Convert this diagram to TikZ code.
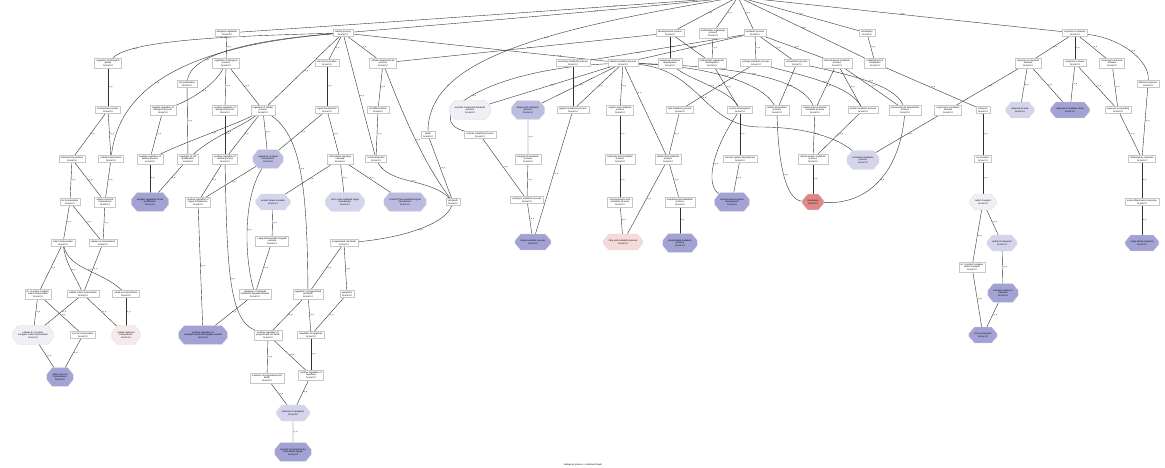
\documentclass[tikz,border=0pt]{standalone}
\usepackage{fontspec}
\setmainfont{Liberation Sans}
\usetikzlibrary{shapes.misc,backgrounds}
\definecolor{cpale}{HTML}{EFEFF6}
\definecolor{clight}{HTML}{D4D4EC}
\definecolor{cmed}{HTML}{BCBCE0}
\definecolor{cdark}{HTML}{A2A2D4}
\definecolor{cpink}{HTML}{F6DADA}
\definecolor{cpinkpale}{HTML}{F8EAEA}
\definecolor{cred}{HTML}{E08888}
\newcommand{\IA}{is\_a}
\tikzset{
 nf/.style={font=\fontsize{2.3}{2.7}\selectfont},
 box/.style={nf, draw=black!22, line width=0.3pt, fill=white, align=center, inner xsep=2pt, inner ysep=1.3pt},
 oct/.style={nf, chamfered rectangle, chamfered rectangle angle=40, chamfered rectangle xsep=2.5pt, draw=black!15, line width=0.3pt, align=center, inner xsep=3pt, inner ysep=2.2pt, minimum height=15pt},
 e/.style={draw=black!80, line width=0.4pt},
 lb/.style={font=\fontsize{1.9}{2}\selectfont, inner sep=0.7pt, right},
}
\begin{document}
\begin{tikzpicture}[x=1pt,y=-1pt]
\useasboundingbox (0,0) rectangle (1165,468);
\coordinate (root) at (738,-3);
% row 0
\node[box] (bioreg) at (227,33) {biological regulation\\Score:0.0};
\node[box] (cellproc) at (343,33) {cellular process\\Score:0.0};
\node[box] (devproc) at (670,33) {developmental process\\Score:0.0};
\node[box] (multorg) at (713,33) {multicellular organismal\\process\\Score:0.0};
\node[box] (metproc) at (755,33) {metabolic process\\Score:0.0};
\node[box] (loc) at (867,33) {localization\\Score:0.0};
\node[box] (respstim) at (1075,33) {response to stimulus\\Score:0.0};
% row 1
\node[box] (regbioqual) at (108,63) {regulation of biological\\quality\\Score:0.0};
\node[box] (regbioproc) at (226,63) {regulation of biological\\process\\Score:0.0};
\node[box] (cellcomm) at (327,63) {cell communication\\Score:0.0};
\node[box] (celldevproc) at (383,63) {cellular developmental\\process\\Score:0.0};
\node[box] (secmet) at (573,63) {secondary metabolic process\\Score:0.0};
\node[box] (cellmet) at (623,63) {cellular metabolic process\\Score:0.0};
\node[box] (anatdev) at (670,63) {anatomical structure\\development\\Score:0.0};
\node[box] (multdev) at (712,63) {multicellular organismal\\development\\Score:0.0};
\node[box] (primmet) at (756,63) {primary metabolic process\\Score:0.0};
\node[box] (biosyn) at (797,63) {biosynthetic process\\Score:0.0};
\node[box] (macromet) at (837,63) {macromolecule metabolic\\process\\Score:0.0};
\node[box] (estloc) at (875,63) {establishment of\\localization\\Score:0.0};
\node[box] (respchem) at (1028,63) {response to chemical\\stimulus\\Score:0.0};
\node[box] (respstress) at (1075,63) {response to stress\\Score:0.0};
\node[box] (respext) at (1112,63) {response to external\\stimulus\\Score:0.0};
\node[box] (cellprolif) at (187,84) {cell proliferation\\Score:0.0};
\node[box] (defresp) at (1148,84) {defense response\\Score:0.0};
% row 2
\node[box] (homeo) at (108,110) {homeostatic process\\Score:0.0};
\node[box] (negregbio) at (163,110) {negative regulation of\\biological process\\Score:0.0};
\node[box] (posregbio) at (225,110) {positive regulation of\\biological process\\Score:0.0};
\node[box] (regcell) at (263,110) {regulation of cellular\\process\\Score:0.0};
\node[box] (sigtrans) at (327,110) {signal transduction\\Score:0.0};
\node[box] (celldiff) at (378,110) {cell differentiation\\Score:0.0};
\node[oct,fill=cpale] (arommet) at (470,110) {aromatic compound metabolic\\process\\Score:0.0};
\node[oct,fill=cmed] (hetmet) at (528,110) {heterocycle metabolic\\process\\Score:1.0};
\node[box] (pigmet) at (573,110) {pigment metabolic process\\Score:0.0};
\node[box] (orgacid) at (620,110) {organic acid metabolic\\process\\Score:0.0};
\node[box] (lipmet) at (680,110) {lipid metabolic process\\Score:0.0};
\node[box] (sysdev) at (740,110) {system development\\Score:0.0};
\node[box] (cellbiosyn) at (777,110) {cellular biosynthetic\\process\\Score:0.0};
\node[box] (cellmacro) at (815,110) {cellular macromolecule\\metabolic process\\Score:0.0};
\node[box] (protmet) at (863,110) {protein metabolic process\\Score:0.0};
\node[box] (macrobiosyn) at (905,110) {macromolecule biosynthetic\\process\\Score:0.0};
\node[box] (respxeno) at (948,110) {response to xenobiotic\\stimulus\\Score:0.0};
\node[box] (transport) at (983,110) {transport\\Score:0.0};
\node[oct,fill=clight] (resptoxin) at (1020,110) {response to toxin\\Score:1.0};
\node[oct,fill=cdark] (respox) at (1070,110) {response to oxidative stress\\Score:1.0};
\node[box] (respwound) at (1118,110) {response to wounding\\Score:0.0};
\node[box] (death) at (428,135) {death\\Score:0.0};
\node[box] (cofactor) at (480,135) {cofactor metabolic process\\Score:0.0};
% row 3
\node[box] (chemhomeo) at (72,159) {chemical homeostasis\\Score:0.0};
\node[box] (cellhomeo) at (111,159) {cellular homeostasis\\Score:0.0};
\node[box] (negregcell) at (150,159) {negative regulation of\\cellular process\\Score:0.0};
\node[box] (regcellprolif) at (188,159) {regulation of cell\\proliferation\\Score:0.0};
\node[box] (posregcell) at (225,159) {positive regulation of\\cellular process\\Score:0.0};
\node[oct,fill=cmed] (regsig) at (268,159) {regulation of signal\\transduction\\Score:1.0};
\node[box] (intrasig) at (340,159) {intracellular signaling\\cascade\\Score:0.0};
\node[box] (celldevt) at (376,159) {cell development\\Score:0.0};
\node[box] (tetrapyr) at (528,159) {tetrapyrrole metabolic\\process\\Score:0.0};
\node[box] (carbox) at (620,159) {carboxylic acid metabolic\\process\\Score:0.0};
\node[box] (celllip) at (668,159) {cellular lipid metabolic\\process\\Score:0.0};
\node[box] (nervdev) at (740,159) {nervous system development\\Score:0.0};
\node[box] (cellprot) at (813,159) {cellular protein metabolic\\process\\Score:0.0};
\node[oct,fill=clight] (xenomet) at (863,160) {xenobiotic metabolic\\process\\Score:1.0};
\node[box] (iontrans) at (983,159) {ion transport\\Score:0.0};
\node[box] (inflam) at (1142,159) {inflammatory response\\Score:0.0};
% row 4
\node[box] (ionhomeo) at (70,202) {ion homeostasis\\Score:0.0};
\node[box] (cellchem) at (105,202) {cellular chemical\\homeostasis\\Score:0.0};
\node[oct,fill=cdark] (negregprolif) at (150,202) {negative regulation of cell\\proliferation\\Score:1.0};
\node[box] (posregsig) at (198,202) {positive regulation of\\signal transduction\\Score:0.0};
\node[oct,fill=clight] (pkc) at (273,202) {protein kinase cascade\\Score:1.0};
\node[oct,fill=clight] (nitric) at (345,202) {nitric oxide mediated signal\\transduction\\Score:1.0};
\node[oct,fill=cmed] (smallgtp) at (405,202) {small GTPase mediated signal\\transduction\\Score:1.0};
\node[box] (celldeath) at (453,202) {cell death\\Score:0.0};
\node[box] (porph) at (527,200) {porphyrin metabolic process\\Score:0.0};
\node[box] (monocarb) at (620,202) {monocarboxylic acid\\metabolic process\\Score:0.0};
\node[box] (memlip) at (680,202) {membrane lipid metabolic\\process\\Score:0.0};
\node[oct,fill=cdark] (cns) at (732,202) {central nervous system\\development\\Score:1.0};
\node[oct,fill=cred] (translation) at (813,202) {translation\\Score:1.0};
\node[oct,fill=cpale] (cationtrans) at (983,202) {cation transport\\Score:1.0};
\node[box] (acuteinf) at (1142,202) {acute inflammatory response\\Score:0.0};
% row 5
\node[box] (cationhomeo) at (63,243) {cation homeostasis\\Score:0.0};
\node[box] (cellion) at (103,243) {cellular ion homeostasis\\Score:0.0};
\node[box] (ikk) at (272,241) {I-kappaB kinase/NF-kappaB\\cascade\\Score:0.0};
\node[box] (pcd) at (344,243) {programmed cell death\\Score:0.0};
\node[oct,fill=cdark] (heme) at (533,242) {heme metabolic process\\Score:1.0};
\node[oct,fill=cpink] (fatty) at (623,242) {fatty acid metabolic process\\Score:0.0};
\node[oct,fill=cdark] (phospho) at (680,243) {phospholipid metabolic\\process\\Score:1.0};
\node[oct,fill=clight] (metaltrans) at (1002,243) {metal ion transport\\Score:1.0};
\node[oct,fill=cdark] (acutephase) at (1142,243) {acute-phase response\\Score:1.0};
\node[box] (ditrans) at (972,267) {di-, tri-valent inorganic\\cation transport\\Score:0.0};
% row 6
\node[box] (ditrihomeo) at (38,294) {di-, tri-valent inorganic\\cation homeostasis\\Score:0.0};
\node[box] (cellcation) at (83,294) {cellular cation homeostasis\\Score:0.0};
\node[box] (metalhomeo) at (126,294) {metal ion homeostasis\\Score:0.0};
\node[box] (regikk) at (255,294) {regulation of I-kappaB\\kinase/NF-kappaB cascade\\Score:0.0};
\node[box] (regpcd) at (308,294) {regulation of programmed\\cell death\\Score:0.0};
\node[box] (apop) at (347,294) {apoptosis\\Score:0.0};
\node[oct,fill=cdark] (transmetal) at (1003,293) {transition metal ion\\transport\\Score:1.0};
% row 7
\node[oct,fill=cpale] (cellditri) at (33,335) {cellular di-, tri-valent\\inorganic cation homeostasis\\Score:1.0};
\node[box] (ironhomeo) at (83,335) {iron ion homeostasis\\Score:0.0};
\node[oct,fill=cpinkpale] (cellmetal) at (126,335) {cellular metal ion\\homeostasis\\Score:1.0};
\node[oct,fill=cdark] (posregikk) at (203,335) {positive regulation of\\I-kappaB kinase/NF-kappaB cascade\\Score:1.0};
\node[box] (posregpcd) at (268,335) {positive regulation of\\programmed cell death\\Score:0.0};
\node[box] (regapop) at (311,335) {regulation of apoptosis\\Score:0.0};
\node[oct,fill=cdark] (irontrans) at (983,335) {iron ion transport\\Score:1.0};
% row 8+
\node[oct,fill=cdark] (celliron) at (60,377) {cellular iron ion\\homeostasis\\Score:1.0};
\node[box] (indpcd) at (267,378) {induction of programmed cell\\death\\Score:0.0};
\node[box] (posregapop) at (311,375) {positive regulation of\\apoptosis\\Score:0.0};
\node[oct,fill=clight] (indapop) at (293,413) {induction of apoptosis\\Score:1.0};
\node[oct,fill=cdark] (indapopintra) at (293,452) {induction of apoptosis by\\intracellular signals\\Score:1.0};
\node[nf] (caption) at (583,465) {biological\_process - combined Graph};

\begin{scope}[on background layer]
\fill[white] (0,0) rectangle (1165,468);
% root edges
\draw[e] (bioreg) .. controls (420,20) and (620,6) .. node[lb,pos=0.7]{\IA} (root);
\draw[e] (cellproc) .. controls (470,22) and (640,8) .. node[lb,pos=0.6]{\IA} (root);
\draw[e] (devproc) -- node[lb]{\IA} (root);
\draw[e] (multorg) -- node[lb]{\IA} (root);
\draw[e] (metproc) -- node[lb]{\IA} (root);
\draw[e] (loc) -- node[lb]{\IA} (root);
\draw[e] (estloc) -- node[lb]{\IA} (root);
\draw[e] (respstim) -- node[lb]{\IA} (root);
\draw[e] (root) .. controls (540,30) and (428,60) .. node[lb,pos=0.4]{\IA} (death);
% left cluster
\draw[e] (bioreg) -- node[lb]{\IA} (regbioproc);
\draw[e] (cellproc) .. controls (230,36) and (130,40) .. node[lb,pos=0.8]{\IA} (regbioqual);
\draw[e] (cellproc) .. controls (250,40) and (190,55) .. node[lb,pos=0.7]{\IA} (cellprolif);
\draw[e] (cellproc) .. controls (200,45) and (120,80) .. node[lb,pos=0.6]{\IA} (cellhomeo);
\draw[e] (cellproc) -- node[lb]{\IA} (regcell);
\draw[e] (cellproc) -- node[lb]{\IA} (cellcomm);
\draw[e] (cellproc) -- node[lb]{\IA} (celldevproc);
\draw[e] (cellproc) -- node[lb]{\IA} (celldevt);
\draw[e] (cellproc) -- node[lb,pos=0.8]{\IA} (cellmet);
\draw[e] (regbioqual) -- node[lb]{\IA} (homeo);
\draw[e] (regbioproc) .. controls (215,85) and (190,100) .. node[lb]{\IA} (negregbio);
\draw[e] (regbioproc) -- node[lb]{\IA} (posregbio);
\draw[e] (regbioproc) -- node[lb]{\IA} (regcell);
\draw[e] (homeo) -- node[lb]{\IA} (chemhomeo);
\draw[e] (homeo) -- node[lb]{\IA} (cellhomeo);
\draw[e] (negregbio) -- node[lb]{\IA} (negregcell);
\draw[e] (posregbio) -- node[lb]{\IA} (posregcell);
\draw[e] (cellprolif) -- node[lb]{\IA} (regcellprolif);
\draw[e] (regcell) .. controls (235,125) and (190,140) .. node[lb]{\IA} (negregcell);
\draw[e] (regcell) .. controls (240,128) and (215,135) .. node[lb]{\IA} (regcellprolif);
\draw[e] (regcell) -- node[lb]{\IA} (posregcell);
\draw[e] (regcell) -- node[lb]{\IA} (regsig);
\draw[e] (regcell) .. controls (300,135) and (307,180) .. node[lb]{\IA} (regpcd);
\draw[e] (celldevproc) -- node[lb]{\IA} (devproc);
\draw[e] (cellcomm) -- node[lb]{\IA} (sigtrans);
\draw[e] (celldevproc) -- node[lb]{\IA} (celldiff);
\draw[e] (celldiff) -- node[lb]{\IA} (celldevt);
\draw[e] (celldevproc) .. controls (405,120) and (425,165) .. node[lb]{\IA} (celldeath);
\draw[e] (death) -- node[lb]{\IA} (celldeath);
\draw[e] (celldevt) .. controls (390,185) and (430,178) .. node[lb]{\IA} (celldeath);
\draw[e] (sigtrans) -- node[lb]{\IA} (intrasig);
\draw[e] (sigtrans) -- node[lb]{\IA} (regsig);
\draw[e] (intrasig) -- node[lb]{\IA} (pkc);
\draw[e] (intrasig) -- node[lb]{\IA} (nitric);
\draw[e] (intrasig) -- node[lb]{\IA} (smallgtp);
\draw[e] (celldeath) .. controls (445,225) and (400,238) .. node[lb]{\IA} (pcd);
\draw[e] (pcd) -- node[lb]{\IA} (apop);
\draw[e] (pcd) -- node[lb]{\IA} (regpcd);
\draw[e] (regpcd) -- node[lb]{\IA} (regapop);
\draw[e] (apop) -- node[lb]{\IA} (regapop);
\draw[e] (regpcd) -- node[lb]{\IA} (posregpcd);
\draw[e] (posregcell) .. controls (227,260) and (228,320) .. node[lb]{\IA} (posregpcd);
\draw[e] (regsig) -- node[lb]{\IA} (posregsig);
\draw[e] (posregcell) -- node[lb]{\IA} (posregsig);
\draw[e] (regsig) .. controls (242,200) and (245,260) .. node[lb]{\IA} (regikk);
\draw[e] (pkc) -- node[lb]{\IA} (ikk);
\draw[e] (ikk) -- node[lb]{\IA} (regikk);
\draw[e] (regikk) -- node[lb]{\IA} (posregikk);
\draw[e] (posregsig) -- node[lb]{\IA} (posregikk);
\draw[e] (posregpcd) -- node[lb]{\IA} (indpcd);
\draw[e] (posregpcd) -- node[lb]{\IA} (posregapop);
\draw[e] (regapop) -- node[lb]{\IA} (posregapop);
\draw[e] (indpcd) -- node[lb]{\IA} (indapop);
\draw[e] (posregapop) -- node[lb]{\IA} (indapop);
\draw[e] (indapop) -- node[lb]{\IA} (indapopintra);
\draw[e] (regcellprolif) -- node[lb]{\IA} (negregprolif);
\draw[e] (negregcell) -- node[lb]{\IA} (negregprolif);
\draw[e] (chemhomeo) -- node[lb]{\IA} (ionhomeo);
\draw[e] (chemhomeo) -- node[lb]{\IA} (cellchem);
\draw[e] (cellhomeo) -- node[lb]{\IA} (cellchem);
\draw[e] (ionhomeo) -- node[lb]{\IA} (cationhomeo);
\draw[e] (ionhomeo) -- node[lb]{\IA} (cellion);
\draw[e] (cellchem) -- node[lb]{\IA} (cellion);
\draw[e] (cationhomeo) -- node[lb]{\IA} (ditrihomeo);
\draw[e] (cationhomeo) .. controls (66,265) and (75,275) .. node[lb]{\IA} (cellcation);
\draw[e] (cationhomeo) .. controls (70,270) and (100,270) .. node[lb]{\IA} (metalhomeo);
\draw[e] (cellion) -- node[lb]{\IA} (cellcation);
\draw[e] (ditrihomeo) -- node[lb]{\IA} (cellditri);
\draw[e] (ditrihomeo) -- node[lb]{\IA} (ironhomeo);
\draw[e] (cellcation) -- node[lb]{\IA} (cellditri);
\draw[e] (cellcation) -- node[lb]{\IA} (cellmetal);
\draw[e] (metalhomeo) -- node[lb]{\IA} (cellmetal);
\draw[e] (cellditri) -- node[lb]{\IA} (celliron);
\draw[e] (ironhomeo) -- node[lb]{\IA} (celliron);
% metabolic cluster
\draw[e] (cellmet) -- node[lb]{\IA} (metproc);
\draw[e] (secmet) -- node[lb,pos=0.3]{\IA} (metproc);
\draw[e] (metproc) -- node[lb]{\IA} (primmet);
\draw[e] (metproc) -- node[lb]{\IA} (biosyn);
\draw[e] (metproc) -- node[lb]{\IA} (macromet);
\draw[e] (devproc) -- node[lb]{\IA} (anatdev);
\draw[e] (devproc) -- node[lb]{\IA} (multdev);
\draw[e] (multorg) -- node[lb]{\IA} (multdev);
\draw[e] (cellmet) -- node[lb]{\IA} (arommet);
\draw[e] (cellmet) -- node[lb]{\IA} (hetmet);
\draw[e] (secmet) -- node[lb]{\IA} (pigmet);
\draw[e] (cellmet) -- node[lb]{\IA} (pigmet);
\draw[e] (cellmet) .. controls (480,70) and (420,120) .. node[lb]{\IA} (cofactor);
\draw[e] (cellmet) -- node[lb]{\IA} (orgacid);
\draw[e] (cellmet) -- node[lb,pos=0.3]{\IA} (celllip);
\draw[e] (cellmet) .. controls (700,70) and (705,127) .. node[lb]{\IA} (760,127) .. controls (810,127) and (840,140) .. (xenomet);
\draw[e] (cellmet) .. controls (700,66) and (760,80) .. node[lb]{\IA} (cellbiosyn);
\draw[e] (cellmet) .. controls (720,66) and (800,75) .. node[lb]{\IA} (cellmacro);
\draw[e] (primmet) -- node[lb]{\IA} (lipmet);
\draw[e] (primmet) .. controls (800,75) and (850,85) .. node[lb]{\IA} (protmet);
\draw[e] (anatdev) .. controls (690,80) and (730,90) .. node[lb]{\IA} (sysdev);
\draw[e] (multdev) -- node[lb]{\IA} (sysdev);
\draw[e] (biosyn) -- node[lb]{\IA} (cellbiosyn);
\draw[e] (biosyn) .. controls (850,75) and (895,85) .. node[lb]{\IA} (macrobiosyn);
\draw[e] (macromet) -- node[lb]{\IA} (cellmacro);
\draw[e] (macromet) -- node[lb]{\IA} (protmet);
\draw[e] (macromet) -- node[lb]{\IA} (macrobiosyn);
\draw[e] (orgacid) -- node[lb]{\IA} (carbox);
\draw[e] (carbox) -- node[lb]{\IA} (monocarb);
\draw[e] (monocarb) -- node[lb]{\IA} (fatty);
\draw[e] (lipmet) -- node[lb]{\IA} (celllip);
\draw[e] (celllip) -- node[lb]{\IA} (fatty);
\draw[e] (celllip) -- node[lb]{\IA} (memlip);
\draw[e] (memlip) -- node[lb]{\IA} (phospho);
\draw[e] (sysdev) -- node[lb]{\IA} (nervdev);
\draw[e] (nervdev) -- node[lb]{\IA} (cns);
\draw[e] (sysdev) .. controls (712,150) and (705,185) .. node[lb]{\IA} (cns);
\draw[e] (cellmacro) -- node[lb]{\IA} (cellprot);
\draw[e] (protmet) -- node[lb]{\IA} (cellprot);
\draw[e] (cellprot) -- node[lb]{\IA} (translation);
\draw[e] (cellbiosyn) .. controls (778,160) and (785,200) .. node[lb]{\IA} (translation);
\draw[e] (macrobiosyn) .. controls (900,170) and (870,205) .. node[lb]{\IA} (translation);
\draw[e] (respxeno) -- node[lb]{\IA} (xenomet);
\draw[e] (hetmet) -- node[lb]{\IA} (tetrapyr);
\draw[e] (tetrapyr) -- node[lb]{\IA} (porph);
\draw[e] (porph) -- node[lb]{\IA} (heme);
\draw[e] (pigmet) -- node[lb]{\IA} (heme);
\draw[e] (cofactor) -- node[lb]{\IA} (porph);
% right cluster
\draw[e] (loc) -- node[lb]{\IA} (estloc);
\draw[e] (estloc) -- node[lb]{\IA} (transport);
\draw[e] (transport) -- node[lb]{\IA} (iontrans);
\draw[e] (iontrans) -- node[lb]{\IA} (cationtrans);
\draw[e] (cationtrans) -- node[lb]{\IA} (metaltrans);
\draw[e] (cationtrans) -- node[lb]{\IA} (ditrans);
\draw[e] (metaltrans) -- node[lb]{\IA} (transmetal);
\draw[e] (transmetal) -- node[lb]{\IA} (irontrans);
\draw[e] (ditrans) -- node[lb]{\IA} (irontrans);
\draw[e] (respstim) -- node[lb]{\IA} (respchem);
\draw[e] (respstim) -- node[lb]{\IA} (respstress);
\draw[e] (respstim) -- node[lb]{\IA} (respext);
\draw[e] (respstim) .. controls (1120,38) and (1150,60) .. node[lb]{\IA} (defresp);
\draw[e] (respchem) -- node[lb]{\IA} (respxeno);
\draw[e] (respchem) -- node[lb]{\IA} (resptoxin);
\draw[e] (respchem) -- node[lb]{\IA} (respox);
\draw[e] (respstress) -- node[lb]{\IA} (respox);
\draw[e] (respstress) -- node[lb]{\IA} (respwound);
\draw[e] (respext) -- node[lb]{\IA} (respwound);
\draw[e] (defresp) -- node[lb]{\IA} (inflam);
\draw[e] (respwound) -- node[lb]{\IA} (inflam);
\draw[e] (inflam) -- node[lb]{\IA} (acuteinf);
\draw[e] (acuteinf) -- node[lb]{\IA} (acutephase);
\end{scope}
\end{tikzpicture}
\end{document}
